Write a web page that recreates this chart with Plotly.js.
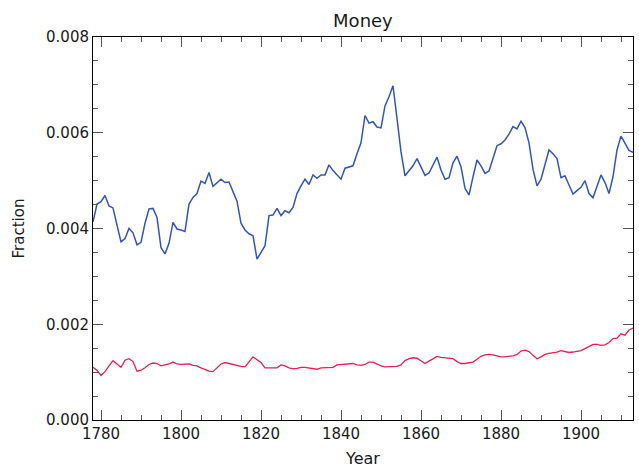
<!DOCTYPE html>
<html>
<head>
<meta charset="utf-8">
<script src="https://cdn.plot.ly/plotly-3.0.1.min.js"></script>
<style>
html,body{margin:0;padding:0;background:#fff;}
#chart{width:639px;height:471px;}
</style>
</head>
<body>
<div id="chart"></div>
<script>
const years = [
1778,1779,1780,1781,1782,1783,1784,1785,1786,1787,
1788,1789,1790,1791,1792,1793,1794,1795,1796,1797,
1798,1799,1800,1801,1802,1803,1804,1805,1806,1807,
1808,1809,1810,1811,1812,1813,1814,1815,1816,1817,
1818,1819,1820,1821,1822,1823,1824,1825,1826,1827,
1828,1829,1830,1831,1832,1833,1834,1835,1836,1837,
1838,1839,1840,1841,1842,1843,1844,1845,1846,1847,
1848,1849,1850,1851,1852,1853,1854,1855,1856,1857,
1858,1859,1860,1861,1862,1863,1864,1865,1866,1867,
1868,1869,1870,1871,1872,1873,1874,1875,1876,1877,
1878,1879,1880,1881,1882,1883,1884,1885,1886,1887,
1888,1889,1890,1891,1892,1893,1894,1895,1896,1897,
1898,1899,1900,1901,1902,1903,1904,1905,1906,1907,
1908,1909,1910,1911,1912,1913];

const blueSeries = [
0.00414,0.00451,0.00456,0.00469,0.00447,0.00443,0.00407,0.00372,0.00379,0.00400,
0.00391,0.00366,0.00371,0.00411,0.00441,0.00442,0.00423,0.00360,0.00347,0.00369,
0.00413,0.00399,0.00397,0.00394,0.00451,0.00465,0.00473,0.00499,0.00494,0.00517,
0.00488,0.00496,0.00503,0.00496,0.00497,0.00477,0.00457,0.00411,0.00397,0.00389,
0.00385,0.00336,0.00350,0.00364,0.00427,0.00428,0.00442,0.00427,0.00437,0.00433,
0.00444,0.00473,0.00489,0.00503,0.00492,0.00512,0.00505,0.00512,0.00512,0.00533,
0.00521,0.00511,0.00503,0.00526,0.00528,0.00531,0.00556,0.00579,0.00636,0.00620,
0.00623,0.00612,0.00610,0.00656,0.00675,0.00698,0.00630,0.00560,0.00510,0.00520,
0.00531,0.00546,0.00529,0.00511,0.00516,0.00533,0.00549,0.00522,0.00503,0.00506,
0.00537,0.00551,0.00529,0.00484,0.00470,0.00508,0.00543,0.00531,0.00515,0.00520,
0.00546,0.00573,0.00577,0.00585,0.00597,0.00613,0.00608,0.00624,0.00611,0.00579,
0.00524,0.00489,0.00503,0.00533,0.00564,0.00556,0.00546,0.00506,0.00510,0.00491,
0.00472,0.00479,0.00486,0.00500,0.00473,0.00464,0.00489,0.00512,0.00496,0.00473,
0.00508,0.00564,0.00593,0.00578,0.00563,0.00559];

const redSeries = [
0.00110,0.00104,0.00093,0.00101,0.00113,0.00124,0.00117,0.00110,0.00125,0.00128,
0.00122,0.00102,0.00104,0.00109,0.00116,0.00119,0.00118,0.00113,0.00115,0.00117,
0.00121,0.00117,0.00116,0.00116,0.00117,0.00114,0.00113,0.00109,0.00105,0.00102,
0.00101,0.00110,0.00117,0.00120,0.00118,0.00115,0.00113,0.00112,0.00111,0.00121,
0.00132,0.00126,0.00120,0.00109,0.00109,0.00109,0.00109,0.00115,0.00113,0.00109,
0.00107,0.00108,0.00110,0.00110,0.00109,0.00107,0.00106,0.00109,0.00109,0.00109,
0.00110,0.00115,0.00116,0.00116,0.00117,0.00118,0.00115,0.00114,0.00116,0.00121,
0.00121,0.00117,0.00113,0.00111,0.00111,0.00111,0.00112,0.00115,0.00124,0.00128,
0.00130,0.00129,0.00124,0.00118,0.00123,0.00128,0.00133,0.00131,0.00130,0.00129,
0.00128,0.00122,0.00118,0.00118,0.00119,0.00121,0.00127,0.00133,0.00136,0.00137,
0.00136,0.00134,0.00132,0.00132,0.00133,0.00134,0.00137,0.00144,0.00146,0.00143,
0.00135,0.00128,0.00132,0.00137,0.00139,0.00140,0.00142,0.00145,0.00143,0.00141,
0.00142,0.00143,0.00145,0.00149,0.00154,0.00158,0.00158,0.00156,0.00157,0.00162,
0.00170,0.00171,0.00180,0.00177,0.00188,0.00192];

const xTickVals = [1780,1800,1820,1840,1860,1880,1900];
const xTickText = ["1780","1800","1820","1840","1860","1880","1900"];
const yTickVals = [0,0.002,0.004,0.006,0.008];
const yTickText = ["0.000","0.002","0.004","0.006","0.008"];

const FONT = "DejaVu Sans";

const traces = [
  {x: years, y: blueSeries, type: "scatter", mode: "lines",
   line: {color: "#3355bb", width: 1.5}, hoverinfo: "skip"},
  {x: years, y: redSeries, type: "scatter", mode: "lines",
   line: {color: "#e8204f", width: 1.3}, hoverinfo: "skip"}
];

const axisCommon = {
  showgrid: false, zeroline: false,
  showline: true, linecolor: "#000", linewidth: 1,
  mirror: "allticks", ticks: "inside", ticklen: 10, tickwidth: 1, tickcolor: "#555",
  tickfont: {family: FONT, size: 15, color: "#1a1a1a"}
};

const layout = {
  width: 639, height: 471,
  margin: {l: 93, r: 6, t: 37, b: 51, pad: 0},
  paper_bgcolor: "#fff", plot_bgcolor: "#fff",
  showlegend: false,
  title: {text: "Money", font: {family: FONT, size: 18, color: "#1a1a1a"},
          x: 0.568, xanchor: "center", y: 0.955, yanchor: "middle"},
  xaxis: Object.assign({}, axisCommon, {
    range: [1778, 1913],
    tickmode: "array", tickvals: xTickVals, ticktext: xTickText,
    minor: {dtick: 5, tick0: 1780, ticklen: 5, tickcolor: "#555", ticks: "inside"},
    title: {text: "Year", font: {family: FONT, size: 16, color: "#1a1a1a"}, standoff: 10}
  }),
  yaxis: Object.assign({}, axisCommon, {
    range: [0, 0.008],
    tickmode: "array", tickvals: yTickVals, ticktext: yTickText,
    minor: {dtick: 0.0005, tick0: 0, ticklen: 5, tickcolor: "#555", ticks: "inside"},
    title: {text: "Fraction", font: {family: FONT, size: 15, color: "#1a1a1a"}, standoff: 17}
  })
};

Plotly.newPlot("chart", traces, layout, {staticPlot: true, displayModeBar: false});
</script>
</body>
</html>
